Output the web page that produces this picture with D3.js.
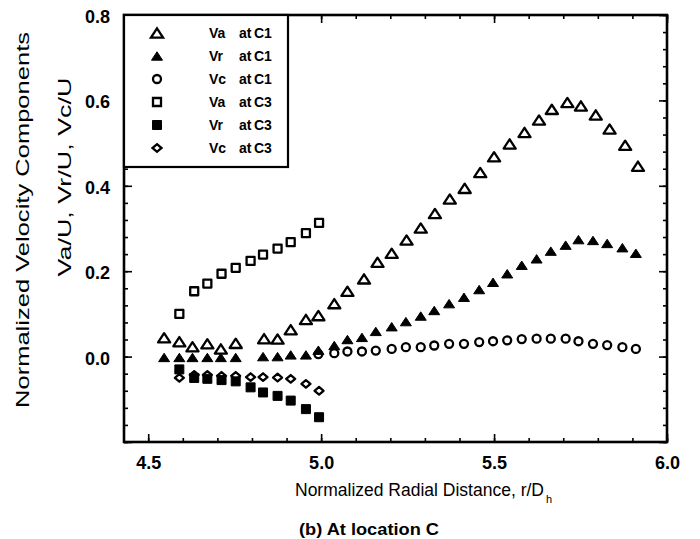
<!DOCTYPE html>
<html>
<head>
<meta charset="utf-8">
<script src="https://cdn.jsdelivr.net/npm/d3@7"></script>
<style>
  html, body { margin: 0; padding: 0; background: #fff; }
  svg { display: block; font-family: Arial, "Liberation Sans", Helvetica, sans-serif; }
</style>
</head>
<body>
<div id="chart"></div>
<script>
// velocity components vs. radial distance, location C

// Va at C1
const vaC1R = [4.546, 4.590, 4.628, 4.671, 4.710, 4.753, 4.835, 4.874, 4.912, 4.956, 4.992,
  5.038, 5.076, 5.124, 5.163, 5.204, 5.247, 5.288, 5.329, 5.372, 5.415, 5.460, 5.500,
  5.545, 5.588, 5.630, 5.667, 5.712, 5.751, 5.794, 5.834, 5.879, 5.916];
const vaC1 = [0.044, 0.035, 0.023, 0.030, 0.018, 0.031, 0.042, 0.041, 0.063, 0.087, 0.096,
  0.124, 0.153, 0.182, 0.221, 0.242, 0.273, 0.301, 0.335, 0.369, 0.394, 0.431, 0.468,
  0.498, 0.525, 0.554, 0.579, 0.595, 0.587, 0.566, 0.533, 0.495, 0.446];

// Vr at C1
const vrC1R = [4.546, 4.590, 4.628, 4.671, 4.710, 4.753, 4.832, 4.874, 4.912, 4.956, 4.992,
  5.038, 5.076, 5.118, 5.158, 5.204, 5.245, 5.288, 5.327, 5.370, 5.413, 5.457, 5.497,
  5.538, 5.580, 5.623, 5.664, 5.707, 5.744, 5.786, 5.827, 5.871, 5.910];
const vrC1 = [-0.002, -0.002, -0.002, -0.002, -0.002, -0.002, 0.000, 0.000, 0.004, 0.004, 0.015,
  0.026, 0.040, 0.045, 0.059, 0.070, 0.082, 0.095, 0.108, 0.124, 0.139, 0.157, 0.174,
  0.194, 0.214, 0.229, 0.247, 0.261, 0.274, 0.272, 0.265, 0.255, 0.242];

// Vc at C1
const vcC1R = [4.992, 5.038, 5.076, 5.118, 5.158, 5.204, 5.245, 5.288, 5.327, 5.370, 5.413,
  5.457, 5.497, 5.538, 5.580, 5.623, 5.664, 5.707, 5.744, 5.786, 5.827, 5.871, 5.910];
const vcC1 = [0.006, 0.008, 0.012, 0.012, 0.014, 0.018, 0.022, 0.022, 0.026, 0.030, 0.030,
  0.034, 0.036, 0.038, 0.041, 0.042, 0.042, 0.042, 0.036, 0.030, 0.027, 0.022, 0.018];

// C3 traverse
const c3R = [4.590, 4.633, 4.671, 4.712, 4.753, 4.796, 4.832, 4.874, 4.912, 4.956, 4.994];
const vaC3 = [0.100, 0.153, 0.171, 0.194, 0.208, 0.224, 0.239, 0.253, 0.268, 0.289, 0.313];
const vrC3 = [-0.030, -0.050, -0.052, -0.055, -0.058, -0.072, -0.084, -0.092, -0.103, -0.123, -0.142];
const vcC3 = [-0.050, -0.043, -0.043, -0.045, -0.045, -0.048, -0.048, -0.049, -0.052, -0.064, -0.080];

const xMajor = [4.5, 5.0, 5.5, 6.0];
const yMajor = [-0.2, 0.0, 0.2, 0.4, 0.6, 0.8];

const width = 700, height = 539;
const plot = { left: 124, right: 667, top: 15, bottom: 442 };

const x = d3.scaleLinear().domain([4.43, 6.0]).range([plot.left, plot.right]);
const y = d3.scaleLinear().domain([-0.2, 0.8]).range([plot.bottom, plot.top]);

// marker outlines, centred on the point
const shapes = {
  triangle: s => `M0,${-s * 0.42}L${s * 0.55},${s * 0.42}L${-s * 0.55},${s * 0.42}Z`,
  square: s => `M${-s / 2},${-s / 2}H${s / 2}V${s / 2}H${-s / 2}Z`,
  diamond: s => `M0,${-s * 0.42}L${s * 0.5},0L0,${s * 0.42}L${-s * 0.5},0Z`,
  circle: s => d3.arc()({ innerRadius: 0, outerRadius: s / 2, startAngle: 0, endAngle: 2 * Math.PI })
};

const series = [
  { name: 'Va', loc: 'C1', r: vaC1R, v: vaC1, shape: 'triangle', size: 11, filled: false },
  { name: 'Vr', loc: 'C1', r: vrC1R, v: vrC1, shape: 'triangle', size: 10, filled: true },
  { name: 'Vc', loc: 'C1', r: vcC1R, v: vcC1, shape: 'circle', size: 8, filled: false },
  { name: 'Va', loc: 'C3', r: c3R, v: vaC3, shape: 'square', size: 8, filled: false },
  { name: 'Vr', loc: 'C3', r: c3R, v: vrC3, shape: 'square', size: 9, filled: true },
  { name: 'Vc', loc: 'C3', r: c3R, v: vcC3, shape: 'diamond', size: 9, filled: false }
];

const svg = d3.select('#chart').append('svg')
  .attr('width', width)
  .attr('height', height);

svg.append('rect').attr('width', width).attr('height', height).attr('fill', '#fff');

// axes: major + minor ticks pointing inward on all four sides
function styleAxis(g) {
  g.select('.domain').remove();
  g.selectAll('.tick line').attr('stroke', '#000').attr('stroke-width', 1.6);
  g.selectAll('.tick text')
    .attr('fill', '#000')
    .attr('font-size', 18)
    .attr('font-weight', 'bold');
}

const fmt = d3.format('.1f');
const xMinor = d3.range(4.5, 6.0001, 0.1);
const yMinor = d3.range(-0.2, 0.8001, 0.04);

svg.append('g')
  .attr('transform', `translate(${plot.left},0)`)
  .call(d3.axisLeft(y).tickValues(yMajor).tickSize(-8).tickPadding(14)
    .tickFormat(d => d < -0.1 ? '' : fmt(d)))
  .call(styleAxis)
  .selectAll('.tick text').attr('dy', '0.42em');

svg.append('g')
  .attr('transform', `translate(${plot.left},0)`)
  .call(d3.axisLeft(y).tickValues(yMinor).tickSize(-4).tickFormat(''))
  .call(styleAxis);

svg.append('g')
  .attr('transform', `translate(${plot.right},0)`)
  .call(d3.axisRight(y).tickValues(yMajor).tickSize(-8).tickFormat(''))
  .call(styleAxis);

svg.append('g')
  .attr('transform', `translate(${plot.right},0)`)
  .call(d3.axisRight(y).tickValues(yMinor).tickSize(-4).tickFormat(''))
  .call(styleAxis);

svg.append('g')
  .attr('transform', `translate(0,${plot.bottom})`)
  .call(d3.axisBottom(x).tickValues(xMajor).tickSize(-8).tickPadding(14).tickFormat(fmt))
  .call(styleAxis);

svg.append('g')
  .attr('transform', `translate(0,${plot.bottom})`)
  .call(d3.axisBottom(x).tickValues(xMinor).tickSize(-4).tickFormat(''))
  .call(styleAxis);

svg.append('g')
  .attr('transform', `translate(0,${plot.top})`)
  .call(d3.axisTop(x).tickValues(xMajor).tickSize(-8).tickFormat(''))
  .call(styleAxis);

svg.append('g')
  .attr('transform', `translate(0,${plot.top})`)
  .call(d3.axisTop(x).tickValues(xMinor).tickSize(-4).tickFormat(''))
  .call(styleAxis);

// frame
svg.append('rect')
  .attr('x', plot.left)
  .attr('y', plot.top)
  .attr('width', plot.right - plot.left)
  .attr('height', plot.bottom - plot.top)
  .attr('fill', 'none')
  .attr('stroke', '#000')
  .attr('stroke-width', 2.6);

// data markers
const marks = svg.append('g').attr('class', 'marks');
series.forEach(s => {
  marks.append('g')
    .selectAll('path')
    .data(s.r.map((r, i) => ({ r, v: s.v[i] })))
    .join('path')
    .attr('transform', d => `translate(${x(d.r)},${y(d.v)})`)
    .attr('d', shapes[s.shape](s.size))
    .attr('fill', s.filled ? '#000' : 'none')
    .attr('stroke', '#000')
    .attr('stroke-width', s.filled ? 1 : 2.3)
    .attr('stroke-linejoin', 'round');
});

// legend box in the upper left corner
const legend = svg.append('g').attr('class', 'legend');
legend.append('rect')
  .attr('x', plot.left)
  .attr('y', plot.top)
  .attr('width', 164)
  .attr('height', 152)
  .attr('fill', '#fff')
  .attr('stroke', '#000')
  .attr('stroke-width', 2.2);

series.forEach((s, i) => {
  const ly = 33 + i * 23;
  legend.append('path')
    .attr('transform', `translate(157,${ly})`)
    .attr('d', shapes[s.shape](s.size))
    .attr('fill', s.filled ? '#000' : 'none')
    .attr('stroke', '#000')
    .attr('stroke-width', s.filled ? 1 : 2.3);
  const t = legend.append('text')
    .attr('y', ly)
    .attr('dy', '0.36em')
    .attr('font-size', 14)
    .attr('font-weight', 'bold')
    .attr('fill', '#000');
  t.append('tspan').attr('x', 209).text(s.name);
  t.append('tspan').attr('x', 239).text('at');
  t.append('tspan').attr('x', 254).text(s.loc);
});

// axis titles
svg.append('text')
  .attr('transform', 'translate(22,220) rotate(-90)')
  .attr('text-anchor', 'middle')
  .attr('dy', '0.35em')
  .attr('font-size', 19)
  .attr('textLength', 376)
  .attr('lengthAdjust', 'spacingAndGlyphs')
  .text('Normalized Velocity Components');

svg.append('text')
  .attr('transform', 'translate(64,177) rotate(-90)')
  .attr('text-anchor', 'middle')
  .attr('dy', '0.35em')
  .attr('font-size', 19)
  .attr('textLength', 199)
  .attr('lengthAdjust', 'spacingAndGlyphs')
  .text('Va/U, Vr/U, Vc/U');

const xTitle = svg.append('text')
  .attr('x', 295)
  .attr('y', 496)
  .attr('font-size', 17.5)
  .text('Normalized Radial Distance, r/D');

// subscript of D_h, placed after the measured title width
const titleEnd = 295 + xTitle.node().getComputedTextLength();
svg.append('text')
  .attr('x', titleEnd + 2)
  .attr('y', 503)
  .attr('font-size', 11)
  .text('h');

svg.append('text')
  .attr('x', 299)
  .attr('y', 535)
  .attr('font-size', 17)
  .attr('font-weight', 'bold')
  .attr('textLength', 140)
  .attr('lengthAdjust', 'spacingAndGlyphs')
  .text('(b) At location C');
</script>
</body>
</html>
